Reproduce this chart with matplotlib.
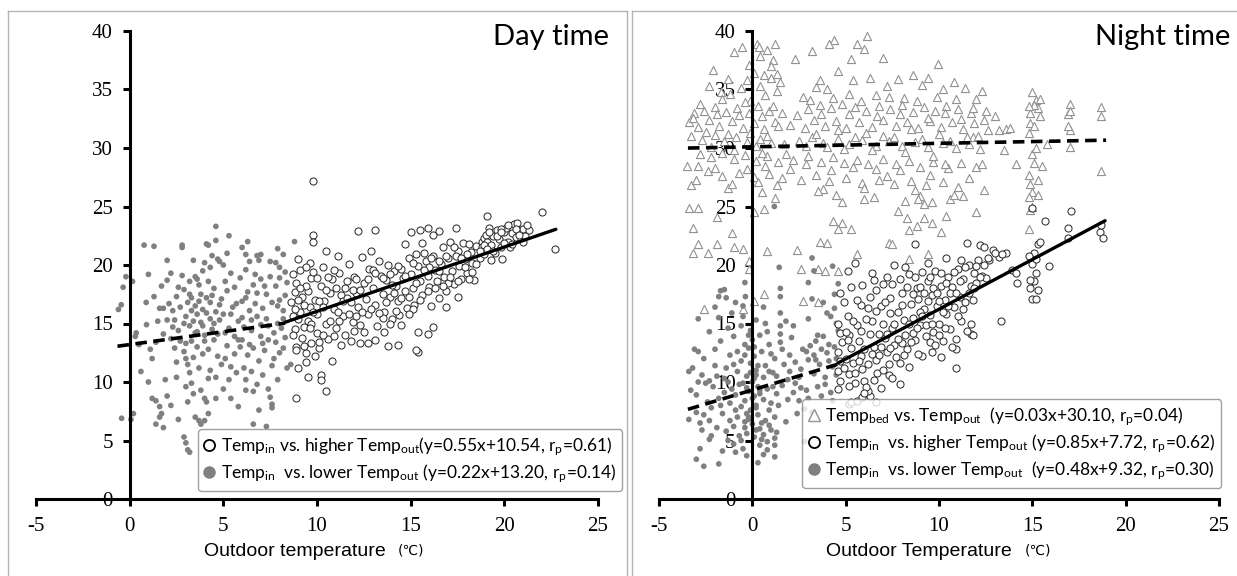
import numpy as np
import matplotlib
matplotlib.use("Agg")
import matplotlib.pyplot as plt
from matplotlib.lines import Line2D

plt.rcParams['axes.unicode_minus'] = False
plt.rcParams['mathtext.fontset'] = 'custom'
plt.rcParams['mathtext.rm'] = 'Lato'
plt.rcParams['mathtext.it'] = 'Lato:italic'

# ---------------- data ----------------
# day time, Temp_in vs lower Temp_out (grey dots)
day_low = np.array([
    -0.6, 16.2, -0.45, 16.6, -0.35, 18.1, -0.2, 19.0, 0.15, 18.6, -0.43, 6.9, 0.2, 7.3, 0.07, 6.8,
    0.35, 14.2, 0.3, 13.9, 0.77, 21.7, 0.88, 16.8, 0.6, 10.9, 1.0, 10.0, 1.2, 8.6, 1.4, 8.4,
    1.6, 7.9, 1.7, 7.3, 1.4, 6.4, 1.8, 6.1, 1.6, 7.0, 1.1, 12.8, 1.2, 12.0, 1.4, 13.4,
    1.7, 18.2, 2.0, 18.7, 1.6, 16.3, 1.8, 16.3, 2.2, 19.3, 2.1, 16.7, 2.0, 15.3, 2.3, 14.7,
    1.9, 10.2, 2.0, 8.8, 2.4, 15.3, 2.7, 16.4, 2.8, 21.7, 2.8, 21.5, 2.8, 19.1, 2.6, 14.4,
    2.7, 13.5, 2.9, 12.6, 3.0, 12.0, 2.9, 5.3, 3.0, 4.8, 3.1, 4.2, 3.2, 4.0, 2.5, 10.4,
    3.0, 9.6, 3.3, 9.9, 3.4, 9.0, 3.5, 7.0, 3.7, 6.7, 3.8, 6.4, 4.0, 6.7, 4.2, 7.3,
    4.0, 8.6, 4.1, 8.3, 3.1, 16.8, 3.3, 17.2, 3.5, 16.5, 3.6, 15.8, 3.4, 15.2, 3.2, 14.8,
    3.8, 17.5, 3.9, 16.2, 4.1, 15.9, 4.3, 16.8, 3.7, 18.3, 3.5, 19.0, 3.9, 19.5, 4.2, 18.6,
    4.4, 17.4, 4.6, 16.0, 4.5, 15.0, 4.8, 15.3, 3.3, 13.5, 3.6, 13.0, 3.9, 12.4, 4.2, 12.8,
    4.5, 13.6, 3.4, 12.1, 3.1, 11.5, 3.7, 11.2, 3.2, 10.8, 4.3, 11.0, 4.6, 10.4, 2.9, 17.9,
    2.6, 18.1, 2.4, 12.9, 2.2, 13.7, 1.8, 14.1, 2.5, 11.7, 4.6, 23.3, 4.1, 21.8, 4.2, 21.7,
    4.6, 22.1, 4.7, 20.5, 4.8, 20.3, 5.0, 20.0, 4.3, 19.8, 5.3, 22.5, 6.0, 21.5, 6.2, 20.9,
    6.4, 20.3, 6.8, 20.8, 7.0, 20.9, 7.9, 21.4, 8.2, 20.9, 8.8, 22.0, 6.6, 9.2, 6.8, 9.8,
    6.9, 7.6, 6.6, 6.4, 7.4, 9.4, 7.5, 8.7, 7.6, 7.8, 7.3, 6.2, 7.6, 8.1, 5.4, 8.6,
    4.6, 8.6, 5.0, 9.4, 6.2, 9.3, 6.1, 11.2, 6.2, 10.2, 8.4, 11.2, 8.6, 11.5, 5.2, 17.8,
    5.5, 16.4, 5.8, 15.2, 5.3, 14.6, 5.6, 13.9, 5.9, 13.0, 6.3, 12.3, 6.5, 14.4, 6.8, 15.6,
    7.1, 16.3, 7.3, 17.5, 7.0, 18.8, 6.7, 19.2, 7.5, 19.0, 7.8, 18.2, 8.0, 17.0, 8.2, 16.1,
    7.9, 15.0, 7.7, 14.2, 7.4, 13.6, 7.2, 12.7, 6.9, 11.8, 7.6, 11.4, 8.0, 12.5, 8.3, 13.8,
    8.1, 14.6, 5.1, 12.0, 5.4, 11.3, 5.7, 10.8, 6.0, 16.9, 6.3, 17.7, 6.6, 18.3, 5.9, 18.9,
    5.4, 19.3, 7.8, 20.2, 8.3, 19.4, 8.0, 19.8, 6.4, 13.2, 7.0, 14.9, 5.0, 15.8, 4.9, 17.1,
    5.7, 16.7, 6.1, 14.7, 6.7, 16.7, 7.3, 15.4, 7.9, 16.5, 8.3, 17.4, 8.4, 18.5, 3.0, 15.6,
    3.6, 14.3, 4.0, 14.0, 4.4, 14.5, 3.8, 15.1, 4.7, 12.2, 5.2, 13.1, 5.6, 12.4, 6.0, 13.6,
    6.5, 15.3, 7.1, 13.3, 7.7, 12.0, 8.2, 15.4, 3.2, 18.6, 4.0, 20.2, 5.1, 18.6, 6.2, 19.6,
    2.9, 15.0, 3.3, 16.1, 3.5, 14.2, 3.7, 16.9, 3.9, 14.8, 4.1, 17.2, 4.3, 15.4, 4.5, 18.0,
    4.7, 14.1, 3.0, 13.3, 3.2, 17.5, 3.6, 18.8, 4.0, 13.5, 4.8, 16.6, 2.3, 16.1, 2.5, 17.3,
    1.5, 15.2, 1.3, 17.3, 0.9, 14.9, 0.5, 13.2, 1.0, 19.2, 5.1, 14.2, 5.4, 15.8, 5.6, 18.1,
    5.8, 13.6, 6.0, 15.5, 6.2, 17.2, 6.4, 16.1, 6.6, 12.9, 6.8, 17.6, 7.0, 13.9, 7.2, 18.2,
    7.4, 14.8, 7.6, 16.8, 7.8, 13.4, 8.0, 18.9, 8.2, 12.9, 7.5, 20.3, 6.9, 20.4, 6.5, 10.9,
    5.3, 10.2, 4.9, 11.5, 4.2, 10.3, 3.8, 9.3, 3.1, 8.3, 2.6, 6.8, 2.2, 8.0, 5.8, 7.9,
    7.1, 10.6, 7.9, 10.2, 4.4, 20.8, 3.4, 20.4, 5.2, 21.0, 6.3, 22.0, 2.0, 20.4, 1.3, 21.6,
]).reshape(-1, 2)

# day time, Temp_in vs higher Temp_out (open circles)
day_high = np.array([
    8.6, 16.8, 8.7, 15.6, 8.8, 14.5, 8.9, 13.0, 8.9, 12.7, 8.8, 17.7, 8.9, 18.5, 9.0, 20.5,
    9.1, 19.6, 9.2, 17.3, 9.1, 16.0, 9.3, 14.7, 9.2, 13.8, 9.4, 12.5, 9.5, 15.2, 9.6, 16.4,
    9.5, 17.8, 9.7, 18.9, 9.6, 20.2, 9.8, 19.4, 9.9, 17.0, 10.0, 15.8, 10.0, 14.2, 10.1, 12.9,
    9.9, 12.2, 10.2, 18.2, 10.3, 19.8, 10.4, 16.9, 10.5, 15.0, 10.6, 13.7, 10.7, 17.6, 10.8, 18.8,
    10.9, 16.2, 11.0, 14.6, 10.5, 21.2, 11.1, 20.8, 11.2, 19.3, 11.3, 17.4, 11.4, 15.6, 11.5, 14.0,
    11.6, 18.6, 11.7, 20.1, 11.8, 16.8, 11.9, 15.1, 12.0, 19.0, 12.1, 17.6, 12.2, 16.4, 12.3, 14.9,
    12.4, 20.7, 12.5, 18.5, 12.6, 17.1, 12.7, 15.8, 12.8, 19.7, 12.9, 21.2, 13.0, 18.0, 13.1, 16.6,
    13.2, 14.8, 13.3, 20.3, 13.4, 19.1, 13.5, 17.5, 13.6, 16.0, 13.7, 18.7, 13.8, 20.0, 13.9, 17.3,
    14.0, 15.4, 14.1, 19.5, 14.2, 18.2, 14.3, 16.9, 14.4, 15.7, 14.5, 19.7, 14.6, 18.9, 14.7, 17.8,
    14.8, 16.3, 14.9, 20.6, 15.0, 19.2, 15.1, 18.0, 15.2, 16.6, 15.3, 20.9, 15.4, 19.9, 15.5, 18.6,
    15.6, 17.4, 15.7, 21.0, 15.8, 20.3, 15.9, 19.1, 16.0, 18.1, 16.1, 16.5, 16.2, 20.8, 16.3, 19.6,
    16.4, 18.6, 16.5, 17.2, 16.6, 20.1, 16.7, 21.5, 16.8, 19.0, 16.9, 17.8, 17.0, 20.6, 17.1, 22.0,
    17.2, 19.5, 17.3, 18.4, 17.5, 21.2, 17.6, 19.9, 17.7, 18.8, 17.8, 21.9, 17.9, 20.5, 18.0, 19.3,
    18.2, 21.1, 18.3, 20.2, 18.4, 18.7, 18.5, 21.6, 18.7, 20.6, 18.8, 22.0, 18.8, 21.5, 18.9, 22.3,
    18.9, 20.9, 19.0, 22.6, 19.0, 21.3, 19.1, 22.0, 19.2, 23.2, 19.3, 21.7, 19.3, 20.4, 19.4, 22.5,
    19.5, 21.0, 19.6, 23.0, 19.7, 22.2, 19.8, 21.5, 19.9, 20.5, 20.0, 22.8, 20.1, 23.2, 20.2, 22.0,
    20.3, 21.5, 20.4, 22.7, 20.5, 23.5, 20.6, 22.4, 20.7, 23.6, 20.8, 23.0, 20.9, 22.2, 21.0, 23.1,
    21.1, 22.5, 21.3, 23.0, 9.8, 27.2, 8.9, 8.6, 10.5, 9.2, 10.2, 10.6, 10.2, 10.2, 9.5, 10.4,
    9.0, 11.2, 9.4, 11.7, 10.8, 11.8, 22.0, 24.5, 22.7, 21.4, 19.1, 24.2, 9.8, 22.6, 9.8, 22.0,
    12.2, 22.9, 13.1, 23.0, 15.0, 22.8, 15.5, 23.0, 15.9, 23.2, 16.2, 22.6, 16.5, 22.9, 17.4, 23.2,
    14.7, 21.8, 13.8, 13.1, 14.3, 13.2, 15.4, 12.6, 15.3, 12.7, 15.4, 14.3, 15.9, 14.1, 16.2, 14.7,
    12.3, 13.3, 12.7, 13.3, 13.1, 13.6, 11.8, 13.5, 9.3, 16.6, 9.7, 13.3, 10.3, 14.0, 10.9, 13.9,
    11.4, 16.9, 12.0, 14.4, 13.6, 14.3, 14.2, 16.1, 16.9, 16.4, 17.5, 17.3, 18.1, 18.8, 11.0, 18.0,
    12.4, 16.0, 13.9, 19.2, 15.6, 21.9, 16.5, 20.3, 17.4, 20.8, 15.1, 16.2, 14.5, 14.9, 8.7, 19.2,
    9.0, 17.0, 9.4, 18.2, 9.7, 15.0, 10.1, 16.9, 10.6, 19.0, 11.2, 15.2, 11.6, 17.2, 12.1, 18.8,
    13.0, 19.6, 13.5, 15.5, 14.0, 18.3, 14.9, 17.3, 16.0, 19.8, 17.0, 18.5, 18.0, 20.9, 19.8, 23.1,
    8.7, 14.0, 8.8, 16.2, 9.0, 15.4, 9.1, 18.0, 9.3, 13.1, 9.4, 19.8, 9.6, 14.6, 9.8, 16.0,
    10.0, 18.9, 10.1, 13.4, 10.3, 16.4, 10.5, 17.9, 10.7, 15.2, 10.9, 19.6, 11.1, 16.0, 11.3, 13.2,
    11.5, 18.0, 11.7, 15.8, 11.9, 17.9, 12.1, 15.6, 12.3, 17.9, 12.5, 14.3, 12.7, 18.8, 12.9, 16.2,
    13.1, 19.3, 13.3, 15.9, 13.5, 18.9, 13.7, 16.8, 13.9, 15.0, 14.1, 17.6, 14.3, 19.9, 14.5, 17.2,
    14.7, 19.1, 14.9, 15.8, 15.1, 20.2, 15.3, 18.5, 15.5, 17.0, 15.7, 19.6, 15.9, 17.8, 16.1, 20.6,
    16.3, 18.0, 16.5, 19.5, 16.7, 18.2, 16.9, 20.8, 17.1, 19.0, 17.3, 21.5, 17.5, 18.6, 17.7, 20.6,
    17.9, 19.8, 18.1, 21.8, 18.3, 19.4, 18.5, 20.1, 18.7, 21.2, 18.9, 21.7, 19.1, 21.4, 19.2, 22.8,
    19.4, 21.2, 19.6, 22.5, 19.8, 22.8, 20.0, 21.9, 20.2, 23.4, 20.4, 21.8, 20.6, 23.1, 20.8, 22.6,
    21.0, 22.0, 21.2, 23.4,
]).reshape(-1, 2)

# night time, Temp_bed vs Temp_out (open triangles)
night_bed = np.array([
    6.15, 39.6, 4.4, 39.2, 4.1, 38.9, 5.6, 38.9, 6.0, 38.5, 0.27, 38.9, 0.38, 38.6, 1.2, 38.9,
    -0.55, 38.6, -1.0, 38.2, 3.2, 38.3, 2.3, 37.6, 5.3, 37.6, 7.0, 37.7, 9.97, 37.2, 0.4, 37.9,
    1.1, 37.5, -2.1, 36.7, 0.1, 36.4, 0.6, 36.2, 1.0, 36.0, 1.3, 36.3, -0.3, 35.8, 5.4, 35.8,
    6.3, 36.0, 10.8, 35.6, 3.4, 35.2, 4.0, 35.0, 7.2, 35.3, 9.1, 35.4, 11.4, 35.1, 12.3, 34.9,
    -1.7, 34.8, -1.2, 34.6, 0.7, 34.5, 1.3, 34.9, 6.6, 34.5, 8.1, 34.3, 9.9, 34.4, 12.0, 34.2,
    15.0, 34.8, 15.2, 34.1, 17.0, 33.8, 18.7, 33.5, -3.1, 33.0, -2.6, 33.2, -2.0, 33.5, -1.4, 33.1,
    -0.8, 33.4, -0.2, 33.0, 0.3, 33.6, 0.9, 33.2, 1.6, 33.0, 3.0, 33.3, 3.6, 33.7, 4.2, 33.4,
    4.8, 33.8, 5.5, 33.5, 6.1, 33.2, 6.8, 33.6, 7.4, 33.3, 8.0, 33.7, 8.6, 33.1, 9.2, 33.5,
    9.8, 33.2, 10.4, 33.6, 11.0, 33.3, 11.7, 33.0, 12.5, 33.2, 14.9, 33.0, 15.4, 32.7, 16.9, 32.9,
    18.7, 32.7, -3.4, 32.2, -2.9, 31.8, -2.3, 32.4, -1.8, 31.9, -1.1, 32.3, -0.5, 31.7, 0.1, 32.1,
    0.6, 31.6, 1.2, 32.2, 2.0, 32.0, 2.8, 31.7, 3.3, 32.4, 3.9, 31.9, 4.5, 32.3, 5.0, 31.7,
    5.7, 32.2, 6.4, 31.8, 7.0, 32.4, 7.7, 31.9, 8.3, 32.2, 8.9, 31.7, 9.5, 32.3, 10.1, 31.8,
    10.7, 32.2, 11.3, 31.6, 11.9, 32.1, 12.6, 31.5, 13.2, 31.5, 13.6, 31.6, 17.0, 31.5, 14.8, 31.3,
    -3.3, 31.0, -2.7, 30.7, -2.0, 31.1, -1.5, 30.6, -0.9, 30.9, -0.3, 30.5, 0.4, 30.8, 1.0, 30.4,
    1.7, 30.3, 2.5, 30.6, 3.2, 30.9, 3.8, 30.4, 4.6, 30.8, 5.2, 30.3, 5.9, 30.7, 6.6, 30.2,
    7.3, 30.6, 8.0, 30.2, 8.7, 30.5, 9.4, 30.1, 10.2, 30.4, 10.9, 30.0, 11.6, 30.3, 12.2, 29.9,
    13.5, 29.8, 15.8, 30.3, 17.0, 30.1, -2.8, 29.5, -2.2, 29.2, -1.6, 29.6, -1.0, 29.1, -0.4, 29.4,
    0.2, 28.9, 0.8, 29.3, 1.4, 28.8, 2.2, 29.0, 3.0, 29.3, 3.7, 28.8, 4.3, 29.2, 4.9, 28.7,
    5.6, 29.0, 6.2, 28.6, 7.0, 29.1, 7.7, 28.6, 8.4, 28.9, 9.0, 28.4, 9.7, 28.8, 10.5, 28.3,
    11.2, 28.7, 12.0, 28.4, -3.5, 28.5, -2.9, 28.5, 15.1, 28.7, 15.5, 28.5, -2.4, 28.0, -1.6, 27.6,
    -0.7, 27.9, 0.1, 27.5, 0.9, 27.8, 1.6, 27.4, 2.6, 27.3, 3.4, 27.7, 4.1, 27.2, 5.0, 27.4,
    5.9, 27.0, 6.8, 27.3, 7.6, 26.9, 8.5, 27.2, 9.3, 26.8, 10.2, 27.1, 11.0, 26.7, 12.4, 26.4,
    -3.3, 26.8, -1.3, 26.6, 0.5, 26.2, 1.2, 25.7, 3.8, 26.5, 4.5, 26.0, 6.0, 25.6, 6.5, 25.8,
    8.2, 25.5, 9.0, 25.9, 9.6, 25.4, 10.6, 25.6, 11.3, 25.9, 15.0, 26.2, 15.3, 27.3, 14.9, 26.9,
    14.8, 25.8, 14.9, 24.7, -2.9, 24.9, -3.4, 24.9, -1.9, 24.1, 0.1, 24.5, 0.6, 24.8, 4.3, 23.8,
    4.8, 23.6, 4.6, 23.1, 5.3, 23.1, 7.8, 24.6, 8.3, 24.0, 8.8, 23.3, 9.2, 24.0, 9.6, 23.6,
    10.4, 24.2, 12.0, 24.5, 8.4, 23.0, 10.1, 22.8, 14.8, 23.1, -3.2, 23.2, -2.9, 21.8, -3.2, 21.0,
    -2.4, 21.0, -1.9, 21.8, -1.1, 22.7, -1.0, 21.5, -0.5, 21.4, -0.2, 20.3, -0.2, 19.7, 0.8, 21.2,
    2.4, 21.3, 2.6, 19.7, 3.5, 19.7, 3.9, 19.5, 4.6, 19.5, 5.6, 20.9, 4.0, 21.9, 3.6, 22.0,
    7.3, 21.9, 7.5, 21.8, 8.4, 20.5, 9.4, 20.9, -2.6, 16.2, -0.5, 16.2, 0.6, 17.5, 0.1, 16.9,
    2.7, 16.9, 3.5, 16.8, 0.5, 32.7, -0.1, 34.0, 2.7, 34.4, 5.2, 34.6, 8.6, 36.2, 11.8, 30.9,
    -3.2, 32.6, -2.8, 33.8, -2.5, 31.4, -2.2, 30.1, -1.9, 32.9, -1.6, 34.2, -1.3, 31.2, -1.0, 29.8,
    -0.7, 32.8, -0.4, 33.9, -0.1, 31.3, 0.2, 30.2, 0.5, 29.6, 0.8, 31.0, 1.1, 33.6, 1.4, 31.9,
    1.8, 29.5, 2.4, 32.8, 2.9, 30.2, 3.1, 34.1, 3.4, 31.2, 3.7, 32.9, 4.0, 30.1, 4.3, 34.3,
    4.6, 31.5, 4.9, 29.9, 5.2, 32.9, 5.5, 30.9, 5.8, 34.0, 6.1, 31.3, 6.4, 29.8, 6.7, 32.7,
    7.0, 31.0, 7.3, 34.4, 7.6, 30.9, 7.9, 32.9, 8.2, 29.7, 8.5, 31.6, 8.8, 34.0, 9.1, 30.8,
    9.4, 32.6, 9.7, 29.3, 10.0, 31.2, 10.3, 33.0, 10.6, 30.6, 10.9, 34.2, 11.2, 32.5, 11.5, 30.9,
    11.8, 33.4, 12.1, 31.0, 12.4, 32.4, -3.0, 27.3, -2.0, 28.3, -1.1, 26.9, -0.3, 28.2, 0.3, 27.1,
    0.7, 28.5, 1.3, 26.8, 2.0, 28.2, 2.9, 28.6, 3.5, 26.3, 4.2, 28.1, 4.8, 25.4, 5.4, 28.4,
    6.0, 26.6, 6.6, 28.2, 7.2, 27.6, 7.9, 28.1, 8.7, 26.4, 9.5, 27.7, 10.3, 28.6, 10.8, 26.0,
    11.6, 27.4, 12.3, 28.6, 9.2, 25.2, 8.9, 25.6, -0.2, 37.1, 0.4, 35.3, 1.0, 37.0, 1.5, 35.6,
    -0.6, 35.1, 0.8, 38.4, -1.3, 35.9, -2.3, 35.3, 3.6, 35.8, 4.6, 36.6, 7.8, 35.9, 9.4, 36.0,
    10.2, 35.0, 14.9, 32.1, 15.1, 31.9, 15.3, 33.4, 15.0, 29.5, 15.2, 30.0, 14.8, 27.7, 15.3, 26.0,
    15.0, 25.0, 15.1, 33.7, 14.8, 33.6, 15.4, 34.2, 17.0, 33.2, 16.9, 31.9, 18.7, 28.0, 13.0, 32.7,
    13.8, 31.7, 14.1, 28.6,
]).reshape(-1, 2)

# night time, Temp_in vs higher Temp_out (open circles)
night_high = np.array([
    17.07, 24.6, 15.7, 23.8, 14.96, 24.9, 16.9, 23.2, 18.6, 22.8, 18.8, 22.3, 18.7, 23.4, 16.9, 22.3,
    15.9, 19.9, 15.3, 21.8, 15.1, 21.0, 15.0, 20.1, 15.2, 19.3, 15.1, 18.6, 14.9, 18.0, 15.0, 17.1,
    15.2, 17.1, 15.3, 17.9, 14.9, 18.7, 15.2, 20.5, 14.8, 20.8, 15.4, 22.0, 13.3, 15.2, 10.9, 11.2,
    11.5, 21.9, 12.2, 21.7, 12.4, 21.5, 12.9, 21.3, 13.2, 20.7, 13.6, 21.0, 12.7, 20.4, 13.9, 19.6,
    14.2, 18.5, 10.4, 20.6, 11.2, 20.4, 8.7, 21.8, 5.5, 20.2, 5.1, 19.5, 5.2, 8.1, 5.3, 8.3,
    5.6, 8.4, 6.6, 8.3, 6.3, 8.8, 6.2, 9.2, 7.9, 9.8, 7.3, 10.6, 9.1, 12.2, 10.1, 12.1,
    10.9, 12.8, 11.7, 14.1, 11.8, 14.0, 4.7, 17.6, 4.9, 16.8, 4.6, 15.0, 4.7, 14.2, 4.8, 13.4,
    4.6, 12.6, 4.7, 11.8, 4.6, 10.9, 4.7, 10.1, 4.6, 9.4, 5.1, 15.6, 5.2, 14.0, 5.3, 12.9,
    5.4, 11.6, 5.2, 10.7, 5.5, 9.9, 5.7, 13.5, 5.8, 12.2, 5.9, 11.1, 6.0, 10.1, 6.1, 9.6,
    6.2, 16.3, 6.4, 15.2, 6.3, 14.1, 6.5, 13.0, 6.6, 11.9, 6.7, 10.8, 6.5, 18.7, 6.6, 17.9,
    6.9, 16.5, 7.0, 15.0, 7.1, 13.8, 7.2, 12.6, 7.3, 11.5, 7.0, 18.4, 7.4, 17.2, 7.5, 14.6,
    7.6, 13.2, 7.7, 12.1, 7.8, 16.0, 7.9, 18.8, 8.0, 17.6, 8.1, 15.3, 8.2, 14.0, 8.3, 12.8,
    8.4, 19.2, 8.5, 16.7, 8.6, 15.5, 8.7, 13.6, 8.8, 18.0, 8.9, 17.1, 9.0, 14.9, 9.1, 19.4,
    9.2, 16.2, 9.3, 13.9, 9.4, 18.6, 9.5, 15.7, 9.6, 17.4, 9.7, 14.3, 9.8, 19.5, 9.9, 16.5,
    10.0, 15.0, 10.1, 18.2, 10.2, 13.5, 10.3, 17.0, 10.4, 15.8, 10.5, 19.0, 10.6, 14.5, 10.7, 18.1,
    10.8, 16.4, 10.9, 13.7, 11.0, 19.7, 11.1, 17.3, 11.2, 15.2, 11.3, 18.8, 11.4, 16.8, 11.5, 14.4,
    11.6, 20.0, 11.7, 18.2, 11.8, 17.0, 11.9, 19.3, 12.0, 18.5, 12.1, 20.4, 12.3, 19.1, 12.5, 18.9,
    12.6, 20.6, 5.0, 14.3, 5.6, 14.9, 6.0, 12.8, 6.8, 14.1, 7.4, 15.9, 8.0, 13.3, 8.6, 14.2,
    9.0, 16.0, 9.5, 13.4, 10.0, 16.9, 5.3, 18.1, 5.8, 16.6, 6.4, 19.3, 7.2, 19.0, 7.6, 20.0,
    8.2, 19.8, 9.4, 20.2, 5.9, 8.7, 6.9, 9.5, 7.5, 10.3, 8.4, 11.3, 9.6, 12.6, 4.9, 11.2,
    5.0, 12.0, 5.1, 13.6, 5.2, 9.7, 5.4, 15.2, 5.5, 10.8, 5.7, 11.8, 5.8, 14.4, 6.0, 9.1,
    6.1, 15.4, 6.2, 11.5, 6.4, 12.4, 6.5, 10.2, 6.6, 16.1, 6.8, 12.3, 6.9, 13.0, 7.0, 11.0,
    7.1, 16.8, 7.2, 14.1, 7.4, 12.9, 7.5, 18.4, 7.6, 15.0, 7.8, 13.7, 7.9, 11.6, 8.0, 16.6,
    8.1, 12.3, 8.3, 18.1, 8.4, 15.0, 8.5, 13.4, 8.6, 17.5, 8.7, 19.0, 8.8, 14.6, 8.9, 12.4,
    9.0, 18.1, 9.1, 15.6, 9.2, 17.6, 9.3, 14.9, 9.4, 16.9, 9.5, 19.0, 9.6, 15.0, 9.7, 18.0,
    9.8, 13.2, 9.9, 17.6, 10.0, 14.0, 10.1, 19.3, 10.2, 16.0, 10.3, 14.6, 10.4, 18.5, 10.5, 16.5,
    10.6, 17.6, 10.7, 13.0, 10.8, 19.4, 10.9, 17.6, 11.0, 15.6, 11.1, 18.6, 11.3, 16.2, 11.4, 19.8,
    11.6, 17.6, 11.7, 15.0, 11.9, 18.0, 12.0, 19.9, 12.2, 19.0, 12.4, 20.0, 13.0, 21.0, 13.4, 20.9,
    14.1, 19.3, 6.3, 17.3, 5.9, 18.3, 5.6, 17.0,
]).reshape(-1, 2)

# night time, Temp_in vs lower Temp_out (grey dots)
night_low = np.array([
    1.18, 25.0, 1.44, 19.8, 3.2, 20.6, 3.3, 19.5, 3.0, 18.5, 3.2, 17.1, 4.3, 19.9, 4.6, 18.4,
    -0.4, 18.5, -0.37, 17.3, -0.5, 16.5, -1.7, 17.8, -1.5, 17.9, -1.8, 17.3, -1.4, 17.2, -1.8, 15.5,
    0.6, 16.4, 1.5, 18.0, 1.5, 17.3, 1.5, 15.9, 1.5, 14.8, 1.5, 14.1, -2.9, 15.4, -2.9, 12.6,
    -3.2, 11.2, -3.0, 8.9, -3.0, 3.4, -2.6, 2.8, -1.8, 3.0, 0.3, 3.1, 1.2, 3.6, -3.0, 7.4,
    -2.7, 5.9, -2.3, 5.1, -2.8, 6.5, -2.3, 6.7, -1.9, 6.1, -1.3, 5.0, -1.0, 4.7, -0.9, 4.0,
    -0.5, 4.3, 0.4, 4.6, 0.8, 4.9, 1.2, 4.6, 1.2, 5.2, 1.3, 5.7, 1.9, 10.2, 2.6, 11.1,
    3.0, 11.9, 3.3, 12.3, 3.5, 14.0, 3.8, 13.9, 4.0, 15.9, 4.2, 15.6, 4.4, 16.3, 4.6, 14.4,
    4.0, 12.5, 3.5, 9.6, 3.7, 8.8, 4.2, 9.1, 2.8, 7.7, 2.4, 7.3, 3.0, 8.6, 2.2, 9.1,
    1.6, 9.7, 2.3, 9.9, 2.8, 4.9, 3.2, 7.4, -0.1, 14.4, 0.0, 13.6, -0.2, 12.9, 0.1, 12.2,
    -0.1, 11.6, 0.2, 11.0, -0.3, 10.5, 0.0, 10.0, 0.3, 9.6, -0.2, 9.2, 0.1, 8.8, -0.4, 8.4,
    0.2, 8.0, -0.1, 7.6, 0.3, 7.2, -0.2, 6.8, 0.0, 6.4, 0.4, 6.0, -0.3, 5.6, 0.1, 5.3,
    -0.6, 11.8, -0.8, 10.9, -0.7, 9.8, -0.9, 8.9, -0.6, 7.9, -0.8, 7.0, -1.0, 6.2, -0.7, 5.4,
    0.5, 12.6, 0.7, 11.4, 0.6, 10.4, 0.8, 9.4, 0.6, 8.5, 0.9, 7.6, 0.7, 6.7, 1.0, 5.9,
    -1.2, 12.3, -1.4, 11.2, -1.3, 10.0, -1.5, 9.1, -1.2, 8.2, -1.6, 7.3, -1.9, 10.5, -2.1, 9.6,
    -1.8, 8.6, -2.2, 7.8, -2.5, 9.9, -2.4, 8.3, -2.7, 10.6, -3.3, 9.3, -3.4, 6.8, -2.0, 12.8,
    -1.7, 13.5, -1.0, 13.9, -0.6, 14.8, -0.4, 13.2, 0.4, 14.0, 0.9, 13.2, 1.2, 12.0, 1.1, 10.8,
    1.3, 9.0, 1.4, 8.0, 1.2, 7.0, 1.7, 11.5, 2.0, 12.3, 1.9, 8.5, 2.5, 10.4, 2.7, 12.8,
    2.9, 9.3, 3.3, 10.7, 3.6, 11.5, 3.9, 10.4, 4.3, 11.3, 4.5, 12.0, 4.1, 13.2, 3.4, 13.5,
    2.1, 13.8, 1.8, 15.2, -1.1, 15.9, -0.9, 16.8, -2.3, 14.3, -2.6, 12.0, 0.2, 15.3, 0.7, 15.0,
    -0.4, 6.1, 0.5, 5.1, -1.4, 5.8, -0.5, 9.9, 0.4, 9.0, -0.3, 7.3, 0.2, 10.6, -0.8, 12.6,
    -0.2, 14.0, 0.1, 13.0, -0.4, 12.3, 0.3, 11.4, -0.1, 10.8, 0.1, 10.3, -0.3, 9.5, 0.4, 9.3,
    0.0, 8.6, 0.2, 7.8, -0.2, 7.0, 0.5, 6.5, -0.4, 6.6, 0.2, 5.9, 0.6, 5.5, -0.6, 5.0,
    0.8, 4.2, -0.3, 3.7, 1.0, 8.2, 1.1, 9.6, 0.9, 10.9, 1.0, 12.4, -1.0, 11.5, -1.1, 9.4,
    -0.9, 7.6, -1.2, 6.7, -1.5, 10.3, -1.7, 8.0, -2.0, 11.4, -2.3, 10.1, -2.6, 7.2, -2.9, 10.0,
    -3.1, 12.8, -3.4, 10.9, -2.2, 5.4, -1.6, 4.1, -2.8, 4.3, 0.6, 3.8, 0.9, 6.3, 1.3, 10.5,
    1.6, 12.8, 2.0, 10.9, 2.3, 11.7, 2.6, 9.5, 2.9, 12.6, 3.1, 13.1, 3.4, 11.9, 3.7, 12.8,
    3.9, 9.8, 4.1, 11.8, 4.4, 13.0, 4.5, 10.6, 4.3, 8.4, 2.5, 8.4, 1.8, 6.6, 1.5, 13.4,
    0.8, 14.3, -0.5, 15.6, -1.3, 14.6, -2.0, 16.4, 2.2, 14.8, 3.0, 15.4, 3.8, 16.8, 4.4, 17.5,
    4.5, 15.0,
]).reshape(-1, 2)

# regression lines from the legends: slope, intercept, x range
day_low_fit = (0.22, 13.20, -0.65, 8.3)
day_high_fit = (0.55, 10.54, 8.3, 22.75)
bed_fit = (0.03, 30.10, -3.45, 18.95)
night_low_fit = (0.48, 9.32, -3.45, 4.6)
night_high_fit = (0.85, 7.72, 4.6, 18.9)

day_labels = [
    'Temp$_{\\mathrm{in}}$ vs. higher Temp$_{\\mathrm{out}}$(y=0.55x+10.54, r$_{\\mathrm{p}}$=0.61)',
    'Temp$_{\\mathrm{in}}$  vs. lower Temp$_{\\mathrm{out}}$ (y=0.22x+13.20, r$_{\\mathrm{p}}$=0.14)',
]
night_labels = [
    'Temp$_{\\mathrm{bed}}$ vs. Temp$_{\\mathrm{out}}$  (y=0.03x+30.10, r$_{\\mathrm{p}}$=0.04)',
    'Temp$_{\\mathrm{in}}$  vs. higher Temp$_{\\mathrm{out}}$ (y=0.85x+7.72, r$_{\\mathrm{p}}$=0.62)',
    'Temp$_{\\mathrm{in}}$  vs. lower Temp$_{\\mathrm{out}}$  (y=0.48x+9.32, r$_{\\mathrm{p}}$=0.30)',
]

W, H = 1237, 576
fig = plt.figure(figsize=(W / 100, H / 100), dpi=100)

def fx(px):
    return px / W

def fy(py):
    return 1 - py / H

# panel frames
for seg in [((8, 8), (11, 576)), ((8, 627), (11, 11)), ((627, 627), (11, 576)),
            ((632, 632), (11, 576)), ((632, 1237), (11, 11))]:
    fig.add_artist(Line2D([fx(seg[0][0]), fx(seg[0][1])], [fy(seg[1][0]), fy(seg[1][1])],
                          color='#b4b4b4', lw=1.0))

gray = '#808080'
tri_col = '#929292'
tick_font = dict(family='Liberation Serif', size=15)

def setup(ax):
    ax.set_xlim(-5, 25)
    ax.set_ylim(0, 40)
    ax.spines['left'].set_position(('data', 0))
    ax.spines['bottom'].set_position(('data', 0))
    ax.spines['top'].set_visible(False)
    ax.spines['right'].set_visible(False)
    ax.spines['left'].set_bounds(0, 40)
    ax.spines['bottom'].set_bounds(-5, 25)
    for s in ('left', 'bottom'):
        ax.spines[s].set_linewidth(2.2)
        ax.spines[s].set_zorder(6)
    ax.set_xticks(range(-5, 26, 5))
    ax.set_yticks(range(0, 41, 5))
    ax.tick_params(axis='both', direction='out', length=5, width=2.2, color='black')
    ax.tick_params(axis='y', pad=7)
    ax.tick_params(axis='x', pad=8)
    for lab in ax.get_xticklabels() + ax.get_yticklabels():
        lab.set_fontfamily(tick_font['family'])
        lab.set_fontsize(tick_font['size'])
    ax.patch.set_alpha(0)

def fit_line(ax, fit, ls):
    a, b, x0, x1 = fit
    xs = np.array([x0, x1])
    if ls == 'solid':
        ax.plot(xs, a * xs + b, color='black', lw=2.4, zorder=5, solid_capstyle='round')
    else:
        ax.plot(xs, a * xs + b, color='black', lw=2.6, zorder=5, dashes=(3.2, 1.8))

# ---------------- day time ----------------
ax1 = fig.add_axes([fx(36), fy(499), fx(598) - fx(36), fy(31) - fy(499)])
setup(ax1)
ax1.scatter(day_low[:, 0], day_low[:, 1], s=17, color=gray, edgecolors='none', zorder=3)
ax1.scatter(day_high[:, 0], day_high[:, 1], s=26, facecolors='white', edgecolors='#303030',
            linewidths=0.75, zorder=4)
fit_line(ax1, day_low_fit, 'dashed')
fit_line(ax1, day_high_fit, 'solid')

h_open = Line2D([], [], marker='o', ls='none', ms=8, mfc='white', mec='black', mew=1.3)
h_gray = Line2D([], [], marker='o', ls='none', ms=8, mfc=gray, mec=gray)
h_tri = Line2D([], [], marker='^', ls='none', ms=9, mfc='white', mec=tri_col, mew=1.0)

leg1 = ax1.legend([h_open, h_gray], day_labels, loc='lower right', bbox_to_anchor=(1.043, 0.017),
                  prop={'family': 'Lato', 'size': 12.5}, frameon=True, fancybox=True,
                  handlelength=0.6, handletextpad=0.35, borderpad=0.35, labelspacing=0.25,
                  borderaxespad=0)
leg1.get_frame().set_edgecolor('#888888')
leg1.get_frame().set_linewidth(1.0)
leg1.set_zorder(7)

fig.text(fx(609), fy(37), 'Day time', ha='right', va='center', family='Lato', fontsize=21)
fig.text(fx(295), fy(551), 'Outdoor temperature', ha='center', va='center',
         family='Liberation Sans', fontsize=14)
fig.text(fx(411), fy(551), '(℃)', ha='center', va='center', family='DejaVu Sans', fontsize=10)

# ---------------- night time ----------------
ax2 = fig.add_axes([fx(659), fy(499), fx(1219) - fx(659), fy(31) - fy(499)])
setup(ax2)
ax2.scatter(night_bed[:, 0], night_bed[:, 1], s=34, marker='^', facecolors='white',
            edgecolors=tri_col, linewidths=0.8, zorder=2)
ax2.scatter(night_low[:, 0], night_low[:, 1], s=17, color=gray, edgecolors='none', zorder=3)
ax2.scatter(night_high[:, 0], night_high[:, 1], s=26, facecolors='white', edgecolors='#303030',
            linewidths=0.75, zorder=4)
fit_line(ax2, bed_fit, 'dashed')
fit_line(ax2, night_low_fit, 'dashed')
fit_line(ax2, night_high_fit, 'solid')

leg2 = ax2.legend([h_tri, h_open, h_gray], night_labels, loc='lower right',
                  bbox_to_anchor=(1.004, 0.0235),
                  prop={'family': 'Lato', 'size': 12.5}, frameon=True, fancybox=True,
                  handlelength=0.6, handletextpad=0.35, borderpad=0.35, labelspacing=0.25,
                  borderaxespad=0)
leg2.get_frame().set_edgecolor('#888888')
leg2.get_frame().set_linewidth(1.0)
leg2.set_zorder(7)

fig.text(fx(1230), fy(37), 'Night time', ha='right', va='center', family='Lato', fontsize=21)
fig.text(fx(919), fy(551), 'Outdoor Temperature', ha='center', va='center',
         family='Liberation Sans', fontsize=14)
fig.text(fx(1038), fy(551), '(℃)', ha='center', va='center', family='DejaVu Sans', fontsize=10)

fig.savefig('out.png', dpi=100)
